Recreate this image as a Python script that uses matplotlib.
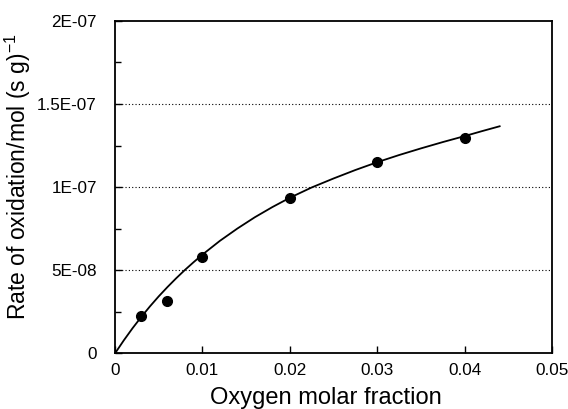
import matplotlib
matplotlib.use("Agg")
import matplotlib.pyplot as plt
from matplotlib.ticker import MultipleLocator

plt.rcParams['font.family'] = ['Liberation Sans', 'DejaVu Sans']
plt.rcParams['mathtext.fontset'] = 'custom'
plt.rcParams['mathtext.rm'] = 'Liberation Sans'

# measured points
x_pts = [0.003, 0.006, 0.010, 0.020, 0.030, 0.040]
y_pts = [2.22e-8, 3.16e-8, 5.79e-8, 9.32e-8, 1.15e-7, 1.295e-7]

# fitted curve
x_curve = [0, 0.001, 0.002, 0.003, 0.004, 0.005, 0.006, 0.007, 0.008, 0.009,
           0.010, 0.012, 0.014, 0.016, 0.018, 0.020, 0.0225, 0.025, 0.0275,
           0.030, 0.0325, 0.035, 0.0375, 0.040, 0.042, 0.044]
y_curve = [0, 0.78e-8, 1.51e-8, 2.19e-8, 2.83e-8, 3.43e-8, 3.99e-8, 4.52e-8,
           5.02e-8, 5.49e-8, 5.94e-8, 6.77e-8, 7.51e-8, 8.19e-8, 8.8e-8,
           9.36e-8, 9.98e-8, 10.52e-8, 11.03e-8, 11.5e-8, 11.93e-8, 12.33e-8,
           12.71e-8, 13.07e-8, 13.37e-8, 13.66e-8]

x_ticks = [0, 0.01, 0.02, 0.03, 0.04, 0.05]
x_labels = ['0', '0.01', '0.02', '0.03', '0.04', '0.05']
y_ticks = [0, 5e-8, 1e-7, 1.5e-7, 2e-7]
y_labels = ['0', '5E-08', '1E-07', '1.5E-07', '2E-07']

fig = plt.figure(figsize=(5.68, 4.09), dpi=100)
ax = fig.add_axes([0.2025, 0.136, 0.7695, 0.813])

for yv in y_ticks[1:-1]:
    ax.axhline(yv, color='black', lw=0.8, ls=(0, (1, 2)), zorder=1)

ax.plot(x_curve, y_curve, color='black', lw=1.3, zorder=2)
ax.plot(x_pts, y_pts, 'o', color='black', ms=7, zorder=3)

ax.set_xlim(0, 0.05)
ax.set_ylim(0, 2e-7)
ax.set_xticks(x_ticks)
ax.set_xticklabels(x_labels)
ax.set_yticks(y_ticks)
ax.set_yticklabels(y_labels)
ax.yaxis.set_minor_locator(MultipleLocator(2.5e-8))
ax.tick_params(axis='both', which='major', direction='in', length=5, width=1,
               labelsize=12.3)
ax.tick_params(axis='x', which='major', pad=7)
ax.tick_params(axis='y', which='major', pad=13)
ax.tick_params(axis='y', which='minor', direction='in', length=4, width=1)

for s in ax.spines.values():
    s.set_linewidth(1.3)

ax.set_xlabel('Oxygen molar fraction', fontsize=17)
ax.set_ylabel(r'Rate of oxidation/mol (s g)$^{-1}$', fontsize=16.5)
ax.xaxis.set_label_coords(0.483, -0.1)
ax.yaxis.set_label_coords(-0.188, 0.53)

fig.savefig('out.png', dpi=100)
